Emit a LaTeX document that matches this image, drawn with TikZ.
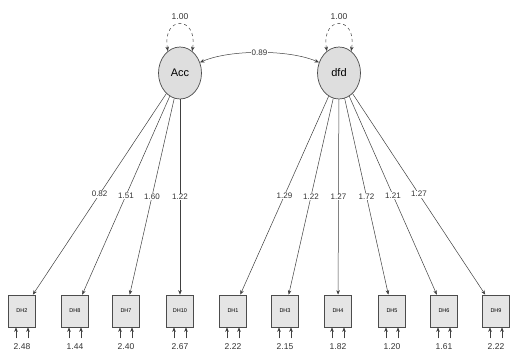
\documentclass[tikz,border=0pt]{standalone}
\usepackage{fontspec}
\setmainfont{Liberation Sans}
\usetikzlibrary{arrows.meta,shapes.geometric}
\begin{document}
\begin{tikzpicture}[x=1pt,y=-1pt,
 lat/.style={ellipse, draw=black!70, line width=0.7pt, fill=black!13, minimum width=43pt, minimum height=52pt, inner sep=0pt, font=\fontsize{11}{11}\selectfont},
 man/.style={rectangle, draw=black!70, line width=0.7pt, fill=black!10, minimum width=27pt, minimum height=32pt, inner sep=0pt, font=\fontsize{5.5}{5.5}\selectfont},
 tip/.tip={Stealth[length=4.5pt,width=3.6pt]},
 edge/.style={draw=black!75, line width=0.5pt, -tip},
 bid/.style={draw=black!75, line width=0.5pt, tip-tip},
 lab/.style={fill=white, inner sep=0.6pt, font=\fontsize{8}{8}\selectfont, text=black!80},
 vlab/.style={inner sep=0pt, font=\fontsize{8.5}{8.5}\selectfont, text=black!80}]
\useasboundingbox[fill=white] (0,0) rectangle (511,356);

\node[lat] (Acc) at (180,73) {Acc};
\node[lat] (dfd) at (339,73) {dfd};

% latent variances
\draw[bid, dashed] (Acc.119) .. controls +(-6,-36) and +(6,-36) .. (Acc.61);
\node[vlab] (vAcc) at (180,17) {1.00};
\draw[bid, dashed] (dfd.119) .. controls +(-6,-36) and +(6,-36) .. (dfd.61);
\node[vlab] (vdfd) at (339,17) {1.00};

% covariance
\draw[bid] (Acc.28) .. controls +(30,-13) and +(-30,-13) .. node[lab] {0.89} (dfd.152);

% manifest variables
\foreach \n/\x/\t/\v in {d2/22/DH2/2.48, d8/75/DH8/1.44, d7/126/DH7/2.40, d10/180/DH10/2.67,
  d1/233/DH1/2.22, d3/285/DH3/2.15, d4/338/DH4/1.82, d5/392/DH5/1.20, d6/444/DH6/1.61, d9/496/DH9/2.22} {
  \node[man] (\n) at (\x,311) {\t};
  \draw[edge] ([xshift=-6pt]\n.south) ++(0,11) coordinate (\n l) -- ([xshift=-6pt]\n.south);
  \draw[edge] ([xshift=6pt]\n.south) ++(0,11) coordinate (\n r) -- ([xshift=6pt]\n.south);
  \node[vlab] (\n v) at (\x,347) {\v};
}

% loadings
\draw[edge] (Acc) -- node[lab] {0.82} (d2);
\draw[edge] (Acc) -- node[lab] {1.51} (d8);
\draw[edge] (Acc) -- node[lab] {1.60} (d7);
\draw[edge] (Acc) -- node[lab] {1.22} (d10);
\draw[edge] (dfd) -- node[lab] {1.29} (d1);
\draw[edge] (dfd) -- node[lab] {1.22} (d3);
\draw[edge] (dfd) -- node[lab] {1.27} (d4);
\draw[edge] (dfd) -- node[lab] {1.72} (d5);
\draw[edge] (dfd) -- node[lab] {1.21} (d6);
\draw[edge] (dfd) -- node[lab] {1.27} (d9);
\end{tikzpicture}
\end{document}
